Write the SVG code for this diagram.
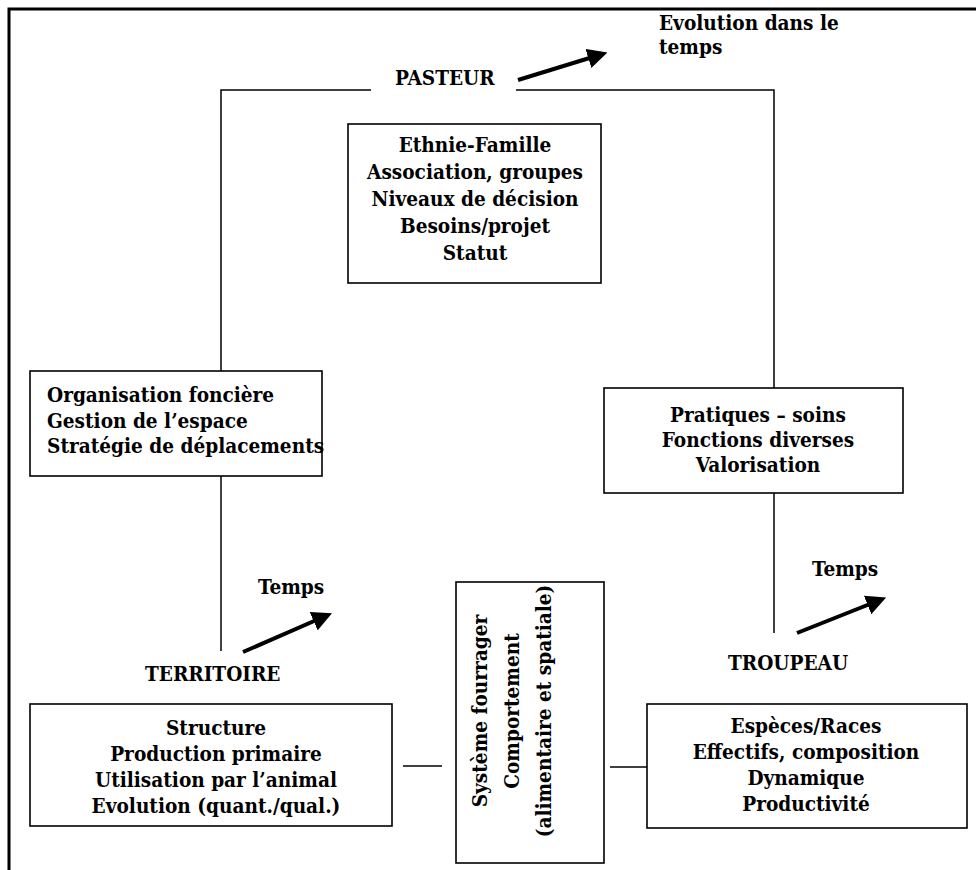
<svg xmlns="http://www.w3.org/2000/svg" width="976" height="870" viewBox="0 0 976 870">
<defs>
<style>
text{font-family:"DejaVu Serif Condensed","DejaVu Serif","Liberation Serif",serif;font-stretch:condensed;font-weight:bold;font-size:20.6px;fill:#000}
.c{text-anchor:middle}
.box{fill:#fff;stroke:#000;stroke-width:1.6}
.ln{stroke:#000;stroke-width:1.5;fill:none}
.arr{stroke:#000;stroke-width:4;fill:none;marker-end:url(#ah)}
</style>
<marker id="ah" markerWidth="5" markerHeight="5" refX="2" refY="2.5" orient="auto" markerUnits="strokeWidth">
<path d="M0,0 L5,2.5 L0,5 Z" fill="#000"/>
</marker>
</defs>
<rect width="976" height="870" fill="#fff"/>
<path d="M9,870 V9 H976" fill="none" stroke="#000" stroke-width="3"/>

<g id="connectors">
<path class="ln" d="M371,90 H221 V371"/>
<path class="ln" d="M516,90 H774 V388"/>
<path class="ln" d="M221,476 V651"/>
<path class="ln" d="M774,493 V633"/>
<path class="ln" d="M403,766 H442"/>
<path class="ln" d="M610,767 H647"/>
<path class="arr" d="M518,80 L596,56"/>
<path class="arr" d="M243,652 L321,618"/>
<path class="arr" d="M797,633 L875,602"/>
</g>

<g id="pasteur"><text x="395" y="85">PASTEUR</text></g>
<g id="evolution"><text x="659" y="30">Evolution dans le</text><text x="659" y="54">temps</text></g>

<g id="ethnie">
<rect class="box" x="348" y="124" width="253" height="159"/>
<text class="c" x="475" y="152">Ethnie-Famille</text>
<text class="c" x="475" y="179">Association, groupes</text>
<text class="c" x="475" y="206">Niveaux de décision</text>
<text class="c" x="475" y="233">Besoins/projet</text>
<text class="c" x="475" y="260">Statut</text>
</g>

<g id="organisation">
<rect class="box" x="30" y="371" width="292" height="105"/>
<text x="47" y="402">Organisation foncière</text>
<text x="47" y="428">Gestion de l’espace</text>
<text x="47" y="453">Stratégie de déplacements</text>
</g>

<g id="pratiques">
<rect class="box" x="604" y="388" width="299" height="105"/>
<text class="c" x="758" y="422">Pratiques – soins</text>
<text class="c" x="758" y="447">Fonctions diverses</text>
<text class="c" x="758" y="472">Valorisation</text>
</g>

<g id="temps-left"><text x="258" y="594">Temps</text></g>
<g id="territoire"><text x="145" y="681">TERRITOIRE</text></g>
<g id="temps-right"><text x="812" y="576">Temps</text></g>
<g id="troupeau"><text x="728" y="670">TROUPEAU</text></g>

<g id="structure">
<rect class="box" x="30" y="704" width="362" height="122"/>
<text class="c" x="216" y="735">Structure</text>
<text class="c" x="216" y="761">Production primaire</text>
<text class="c" x="216" y="787">Utilisation par l’animal</text>
<text class="c" x="216" y="813">Evolution (quant./qual.)</text>
</g>

<g id="systeme">
<rect class="box" x="456" y="582" width="148" height="281"/>
<text class="c" transform="translate(487,711) rotate(-90)">Système fourrager</text>
<text class="c" transform="translate(519,711) rotate(-90)">Comportement</text>
<text class="c" transform="translate(551,711) rotate(-90)">(alimentaire et spatiale)</text>
</g>

<g id="especes">
<rect class="box" x="647" y="704" width="320" height="124"/>
<text class="c" x="806" y="733">Espèces/Races</text>
<text class="c" x="806" y="759">Effectifs, composition</text>
<text class="c" x="806" y="785">Dynamique</text>
<text class="c" x="806" y="811">Productivité</text>
</g>
</svg>
